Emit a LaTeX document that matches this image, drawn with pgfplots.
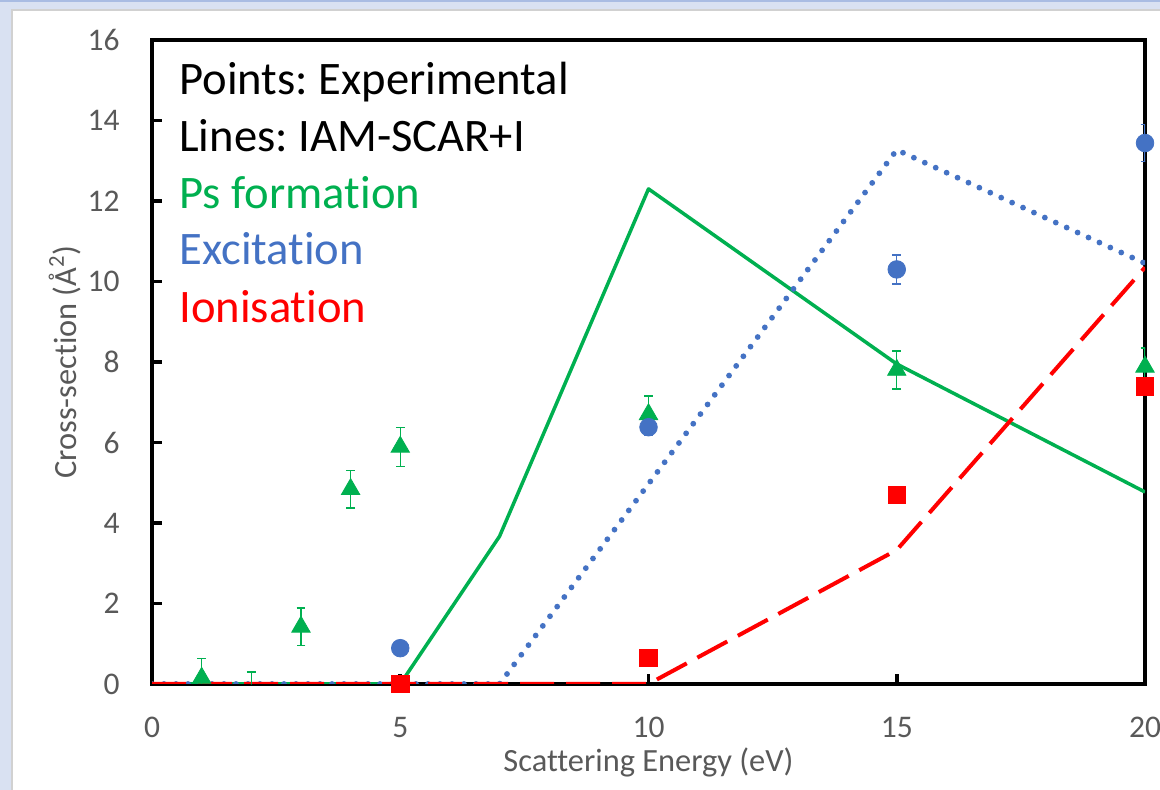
\documentclass[border=0pt]{standalone}
\usepackage{pgfplots}
\pgfplotsset{compat=1.18}
\usepackage{fontspec}
\setmainfont[Ligatures=NoCommon]{Carlito}
\frenchspacing
\definecolor{psgreen}{HTML}{00B050}
\definecolor{exblue}{HTML}{4472C4}
\definecolor{ionred}{HTML}{FF0000}
\definecolor{tickgrey}{HTML}{595959}
\definecolor{bgblue}{HTML}{D9E1F2}
\definecolor{topblue}{HTML}{A9BCE3}

% Model lines (IAM-SCAR+I)
\pgfplotstableread{
x y
0 0
1 0
2 0
3 0
4 0
5 0
7 3.67
10 12.3
15 7.95
20 4.77
}\psline
\pgfplotstableread{
x y
0 0
1 0
2 0
3 0
4 0
5 0
7 0
10 4.97
15 13.27
20 10.45
}\exline
\pgfplotstableread{
x y
0 0
1 0
2 0
3 0
4 0
5 0
7 0
10 0
15 3.33
20 10.35
}\ionline

\begin{document}
\begin{tikzpicture}
\path[use as bounding box] (0,0) rectangle (580pt,395pt);
\fill[bgblue] (0,0) rectangle (580pt,395pt);
\draw[topblue, line width=1pt] (0,394.5pt) -- (580pt,394.5pt);
\fill[white] (6pt,-5pt) rectangle (590pt,390pt);
\draw[black!18, line width=0.6pt] (6pt,-5pt) -- (6pt,390pt) -- (590pt,390pt);

\begin{axis}[
  at={(76pt,53pt)}, anchor=south west,
  scale only axis, width=496.5pt, height=322pt,
  xmin=0, xmax=20, ymin=0, ymax=16,
  xtick={0,5,10,15,20}, ytick={0,2,...,16},
  xtick pos=bottom, ytick pos=left,
  tick align=inside, major tick length=5pt,
  axis line style={line width=2.2pt, black},
  tick style={line width=1.8pt, black},
  /pgf/number format/assume math mode=true,
  tick label style={font=\fontsize{15.75}{18}\selectfont, text=tickgrey},
  yticklabel style={anchor=east, inner sep=0pt, xshift=-16pt},
  xticklabel style={anchor=north, inner sep=0pt, yshift=-16.5pt},
  xlabel={Scattering Energy (eV)},
  ylabel={Cross-section (Å\textsuperscript{2})},
  label style={font=\fontsize{16.2}{19}\selectfont, text=tickgrey},
  xlabel style={at={(axis description cs:0.5,-0.1351)}, anchor=base, inner sep=0pt},
  ylabel style={at={(axis description cs:-0.0876,0.5)}, anchor=center, rotate=0, inner sep=0pt},
  clip=true, clip marker paths=false,
]
% lines
\addplot[psgreen, line width=1.75pt, line join=round] table[x=x,y=y] {\psline};
\addplot[exblue, line width=2.9pt, line cap=round, dash pattern=on 0pt off 6pt] table[x=x,y=y] {\exline};
\addplot[ionred, line width=2pt, dash pattern=on 17pt off 6pt] table[x=x,y=y] {\ionline};

% Ps formation points
\addplot[only marks, mark=triangle*, mark size=5.3pt, color=psgreen,
  error bars/.cd, y dir=both, y explicit,
  error bar style={line width=0.7pt, psgreen},
  error mark options={rotate=90, mark size=2.2pt, line width=0.7pt, psgreen}]
coordinates {
(1,0.15) +- (0,0.48)
(3,1.42) +- (0,0.47)
(4,4.84) +- (0,0.47)
(5,5.89) +- (0,0.48)
(10,6.70) +- (0,0.46)
(15,7.80) +- (0,0.47)
(20,7.88) +- (0,0.47)
};
\addplot[only marks, mark=*, mark options={draw=none, fill=none}, mark size=0.01pt, color=psgreen,
  error bars/.cd, y dir=plus, y explicit,
  error bar style={line width=0.7pt, psgreen},
  error mark options={rotate=90, mark size=2.2pt, line width=0.7pt, psgreen}]
coordinates {(2,0) +- (0,0.3)};

% Excitation points
\addplot[only marks, mark=*, mark size=4.4pt, color=exblue,
  error bars/.cd, y dir=both, y explicit,
  error bar style={line width=0.7pt, exblue},
  error mark options={rotate=90, mark size=2.2pt, line width=0.7pt, exblue}]
coordinates {
(5,0.89) +- (0,0.1)
(10,6.38) +- (0,0.2)
(15,10.30) +- (0,0.36)
(20,13.44) +- (0,0.46)
};

% Ionisation points
\addplot[only marks, mark=square*, mark size=4.4pt, color=ionred]
coordinates {
(5,0)
(10,0.65)
(15,4.70)
(20,7.40)
};

\begin{scope}[every node/.style={anchor=base west, inner sep=0pt, font=\fontsize{23.3}{28}\selectfont}]
\node[text=black] at (rel axis cs:0.0272,0.9146) {Points: Experimental};
\node[text=black] at (rel axis cs:0.0272,0.8261) {Lines: IAM-SCAR+I};
\node[text=psgreen] at (rel axis cs:0.0272,0.7391) {Ps formation};
\node[text=exblue] at (rel axis cs:0.0272,0.6506) {Excitation};
\node[text=ionred] at (rel axis cs:0.0272,0.5606) {Ionisation};
\end{scope}
\end{axis}
\end{tikzpicture}
\end{document}
